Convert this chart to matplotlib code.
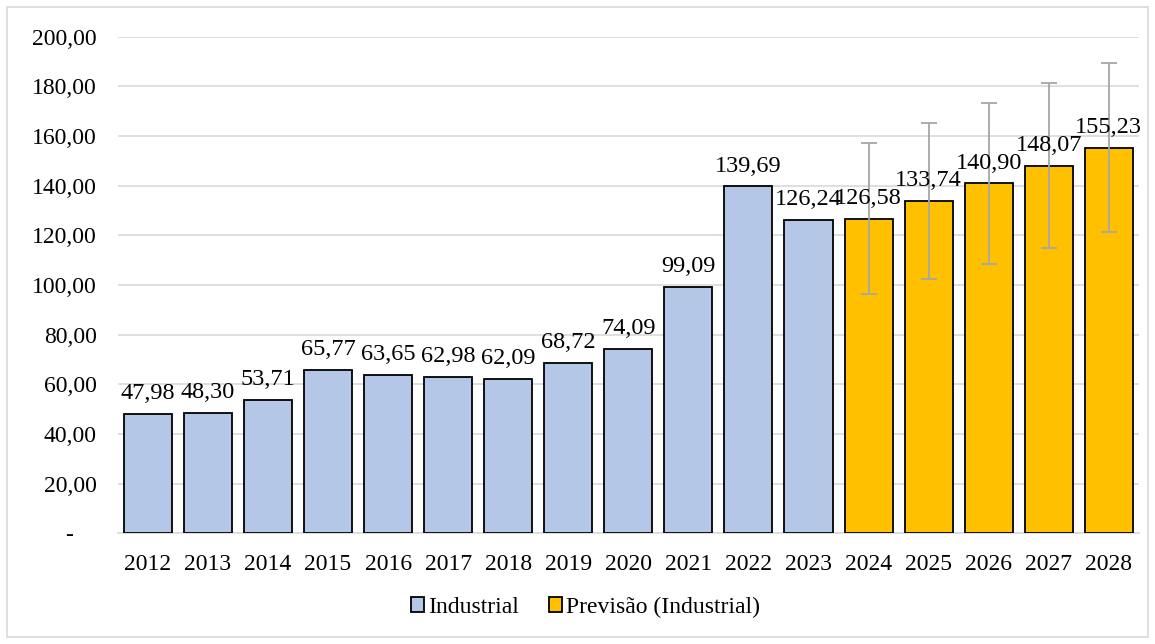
import matplotlib.pyplot as plt
import matplotlib.patches as mpatches
import numpy as np

plt.rcParams['font.family'] = ['Liberation Serif', 'DejaVu Serif']

anos = ['2012', '2013', '2014', '2015', '2016', '2017', '2018', '2019', '2020',
        '2021', '2022', '2023', '2024', '2025', '2026', '2027', '2028']
industrial = [47.98, 48.30, 53.71, 65.77, 63.65, 62.98, 62.09, 68.72, 74.09,
              99.09, 139.69, 126.24]
previsao = [126.58, 133.74, 140.90, 148.07, 155.23]
erro_sup = [157.0, 165.3, 173.4, 181.5, 189.5]
erro_inf = [96.2, 102.3, 108.6, 114.8, 121.2]

fig = plt.figure(figsize=(11.55, 6.44), dpi=100)
ax = fig.add_axes([0.102, 0.172, 0.884, 0.771])

fig.patches.append(mpatches.Rectangle((0.006, 0.011), 0.988, 0.978, transform=fig.transFigure,
                                      fill=False, edgecolor='#d9d9d9', linewidth=1.2))

x = np.arange(len(anos))
x_ind = x[:len(industrial)]
x_prev = x[len(industrial):]
w = 0.8

ax.bar(x_ind, industrial, w, color='#b4c7e7', edgecolor='black', linewidth=1.3,
       label='Industrial', zorder=3)
ax.bar(x_prev, previsao, w, color='#ffc000', edgecolor='black', linewidth=1.3,
       label='Previsão (Industrial)', zorder=3)
yerr = [np.array(previsao) - np.array(erro_inf), np.array(erro_sup) - np.array(previsao)]
ax.errorbar(x_prev, previsao, yerr=yerr, fmt='none', ecolor='#a6a6a6', elinewidth=1.3,
            capsize=6, capthick=1.3, zorder=4)

fmt = lambda v: f'{v:.2f}'.replace('.', ',')
for xi, v in zip(x_ind, industrial):
    ax.text(xi, v + 4.0, fmt(v), ha='center', va='bottom', fontsize=17.5, zorder=5)
for xi, v in zip(x_prev, previsao):
    ax.text(xi, v + 4.0, fmt(v), ha='center', va='bottom', fontsize=17.5, zorder=5)

ax.set_xlim(-0.5, len(anos) - 0.5)
ax.set_ylim(0, 200)
ax.set_xticks(x)
ax.set_xticklabels(anos, fontsize=17)
ax.set_yticks(range(0, 201, 20))
ax.set_yticklabels(['-    '] + [fmt(v) for v in range(20, 201, 20)], fontsize=17)
ax.tick_params(length=0, pad=15)
ax.tick_params(axis='y', pad=15)
ax.grid(axis='y', color='#d9d9d9', linewidth=1.2, zorder=0)
for s in ['top', 'right', 'left']:
    ax.spines[s].set_visible(False)
ax.spines['bottom'].set_color('#d9d9d9')
ax.spines['bottom'].set_linewidth(1.2)

fig.legend(*ax.get_legend_handles_labels(), loc='center', bbox_to_anchor=(0.507, 0.057),
           ncol=2, frameon=False, fontsize=17, handlelength=0.55, handleheight=0.55,
           handletextpad=0.15, columnspacing=1.3)

fig.savefig('out.png', dpi=100)
